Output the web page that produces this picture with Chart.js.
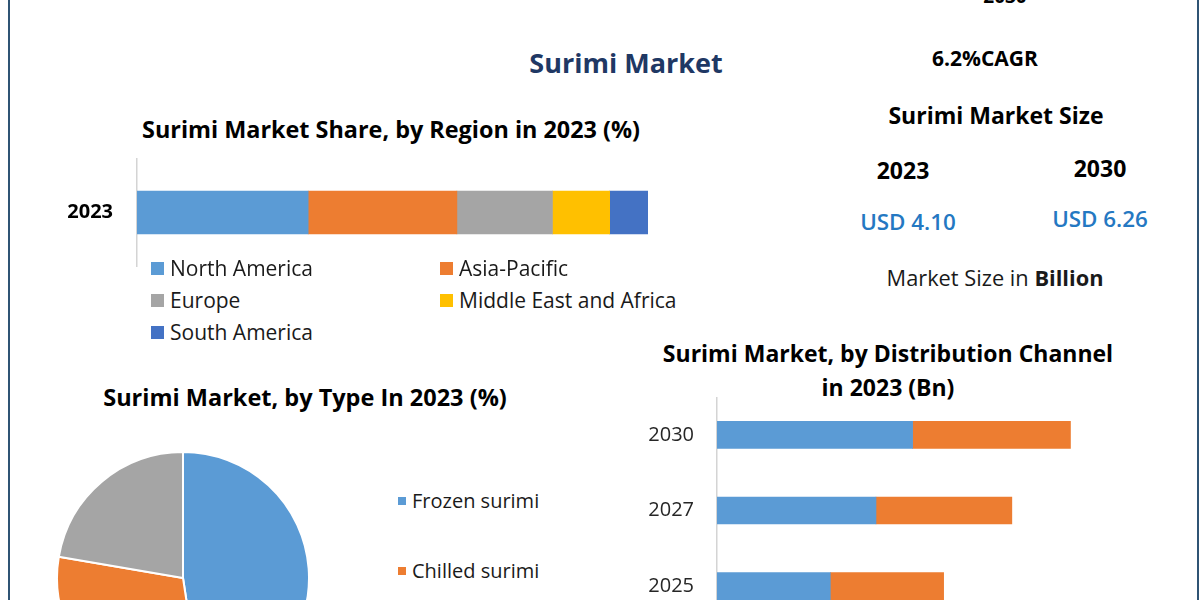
<!DOCTYPE html>
<html><head><meta charset="utf-8">
<script src="https://cdn.jsdelivr.net/npm/chart.js@4.4.1/dist/chart.umd.min.js"></script>
<style>
html,body{margin:0;padding:0;width:1200px;height:600px;overflow:hidden;background:#fff;font-family:"Open Sans",sans-serif;}
#frame{position:absolute;left:8px;top:-10px;width:1191px;height:640px;border-left:2px solid #2f5474;border-right:2px solid #2f5474;box-sizing:border-box;}
.t{position:absolute;transform:translate(-50%,-50%);white-space:nowrap;line-height:1;color:#000;}
.b{font-weight:700;}
canvas{position:absolute;display:block;}
.lg{position:absolute;white-space:nowrap;line-height:1;color:#1a1a1a;transform:translateY(-50%);}
.sq{position:absolute;}
</style>
</head><body>
<div id="frame"></div>

<div class="t b" style="left:1005px;top:-4px;font-size:19px;">2030</div>
<div class="t b" style="left:626px;top:62px;font-size:27px;color:#1f3864;">Surimi Market</div>
<div class="t b" style="left:985px;top:58px;font-size:21px;">6.2%CAGR</div>
<div class="t b" style="left:996px;top:115px;font-size:23px;">Surimi Market Size</div>
<div class="t b" style="left:903px;top:170px;font-size:23px;">2023</div>
<div class="t b" style="left:1100px;top:168px;font-size:23px;">2030</div>
<div class="t" style="left:908px;top:222px;font-size:22.4px;font-weight:600;color:#2478c2;">USD 4.10</div>
<div class="t" style="left:1100px;top:219px;font-size:22.4px;font-weight:600;color:#2478c2;">USD 6.26</div>
<div class="t" style="left:995px;top:278px;font-size:21.8px;color:#1a1a1a;">Market Size in <b>Billion</b></div>

<div class="t b" style="left:391px;top:130px;font-size:23.4px;">Surimi Market Share, by Region in 2023 (%)</div>
<div class="t b" style="left:305px;top:398px;font-size:23.5px;">Surimi Market, by Type In 2023 (%)</div>
<div class="t b" style="left:888px;top:353px;font-size:23px;">Surimi Market, by Distribution Channel</div>
<div class="t b" style="left:888px;top:387px;font-size:23px;">in 2023 (Bn)</div>

<canvas id="region" width="609" height="109" style="left:39px;top:158px;width:609px;height:109px;"></canvas>
<canvas id="type" width="254" height="254" style="left:56px;top:451px;width:254px;height:254px;"></canvas>
<canvas id="channel" width="549" height="227" style="left:619px;top:397px;width:549px;height:227px;"></canvas>
<div id="legends"></div>

<script>
// ---- data ----
const regionCategories = ['2023'];
const regionLabels = ['North America', 'Asia-Pacific', 'Europe', 'Middle East and Africa', 'South America'];
const regionShares = [33.5, 29.1, 18.7, 11.2, 7.5];
const regionColors = ['#5b9bd5', '#ed7d31', '#a5a5a5', '#ffc000', '#4472c4'];

const typeLabels = ['Frozen surimi', 'Chilled surimi', 'Others'];
const typeShares = [47.6, 30.1, 22.3];
const typeColors = ['#5b9bd5', '#ed7d31', '#a5a5a5'];

const channelYears = ['2030', '2027', '2025'];
const channelLabels = ['Offline', 'Online'];
const channelOffline = [3.47, 2.82, 2.01];
const channelOnline = [2.80, 2.41, 2.01];
const channelColors = ['#5b9bd5', '#ed7d31'];

const FONT = 'Open Sans';
Chart.defaults.font.family = FONT;
Chart.defaults.animation = false;
Chart.defaults.plugins.legend.display = false;
Chart.defaults.plugins.tooltip.enabled = false;

const fixAxis = s => { s.width = 98; s.paddingTop = 0; s.paddingBottom = 0; };

// ---- region stacked bar ----
new Chart(document.getElementById('region'), {
  type: 'bar',
  data: {
    labels: regionCategories,
    datasets: regionLabels.map((l, i) => ({
      label: l, data: [regionShares[i]], backgroundColor: regionColors[i],
      barThickness: 43, borderWidth: 0
    }))
  },
  options: {
    indexAxis: 'y', responsive: false, devicePixelRatio: 1,
    layout: { padding: 0 },
    scales: {
      x: { stacked: true, display: false, min: 0, max: 100 },
      y: {
        stacked: true,
        grid: { display: false, drawTicks: false },
        border: { display: true, color: '#d4d4d4', width: 1.5 },
        ticks: { padding: 24, color: '#000', font: { size: 20, weight: 'bold' } },
        afterFit: fixAxis
      }
    }
  }
});

// ---- type pie ----
new Chart(document.getElementById('type'), {
  type: 'pie',
  data: {
    labels: typeLabels,
    datasets: [{ data: typeShares, backgroundColor: typeColors, borderColor: '#fff', borderWidth: 2 }]
  },
  options: { responsive: false, devicePixelRatio: 1, layout: { padding: 0 } }
});

// ---- channel stacked bar ----
new Chart(document.getElementById('channel'), {
  type: 'bar',
  data: {
    labels: channelYears,
    datasets: [
      { label: channelLabels[0], data: channelOffline, backgroundColor: channelColors[0], barThickness: 27, borderWidth: 0 },
      { label: channelLabels[1], data: channelOnline, backgroundColor: channelColors[1], barThickness: 27, borderWidth: 0 }
    ]
  },
  options: {
    indexAxis: 'y', responsive: false, devicePixelRatio: 1,
    layout: { padding: 0 },
    scales: {
      x: { stacked: true, display: false, min: 0, max: 8 },
      y: {
        stacked: true,
        grid: { display: false, drawTicks: false },
        border: { display: true, color: '#d4d4d4', width: 1.5 },
        ticks: { padding: 23, color: '#262626', font: { size: 20 } },
        afterFit: fixAxis
      }
    }
  }
});

// ---- HTML legends built from the series arrays ----
const lg = document.getElementById('legends');
function addItem(x, y, size, sq, color, text) {
  const s = document.createElement('div');
  s.className = 'sq';
  s.style.cssText = `left:${x}px;top:${y - sq / 2}px;width:${sq}px;height:${sq}px;background:${color};`;
  lg.appendChild(s);
  const d = document.createElement('div');
  d.className = 'lg';
  d.style.cssText = `left:${x + sq + 6}px;top:${y}px;font-size:${size}px;`;
  d.textContent = text;
  lg.appendChild(d);
}
const regionPos = [[151, 268], [440, 268], [151, 300], [440, 300], [151, 332]];
regionLabels.forEach((l, i) => addItem(regionPos[i][0], regionPos[i][1], 21, 13, regionColors[i], l));
typeLabels.forEach((l, i) => addItem(398, 501 + i * 70, 20, 8, typeColors[i], l));
</script>
</body></html>
